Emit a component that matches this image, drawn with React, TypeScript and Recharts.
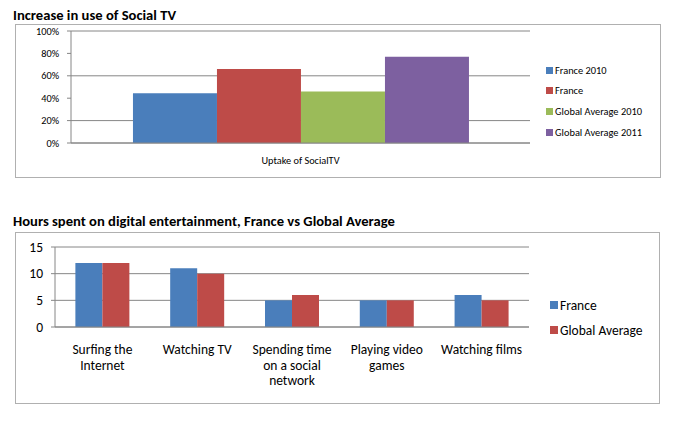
import { BarChart, Bar, XAxis, YAxis, CartesianGrid } from 'recharts'

const socialCategories = ['Uptake of SocialTV']
const socialSeries = ['France 2010', 'France', 'Global Average 2010', 'Global Average 2011']
const france2010 = [0.445]
const france2011 = [0.66]
const global2010 = [0.46]
const global2011 = [0.77]
const percentTicks = [0, 0.2, 0.4, 0.6, 0.8, 1]

const activities = [
  'Surfing the\nInternet',
  'Watching TV',
  'Spending time\non a social\nnetwork',
  'Playing video\ngames',
  'Watching films',
]
const hourSeries = ['France', 'Global Average']
const hoursFrance = [12, 11, 5, 5, 6]
const hoursGlobal = [12, 10, 6, 5, 5]
const hourTicks = [0, 5, 10, 15]

const BLUE = '#4a7ebb'
const RED = '#be4b48'
const GREEN = '#9bbb59'
const PURPLE = '#7d60a0'
const GRID = '#868686'
const FONT = 'Carlito, Lato, sans-serif'

const socialData = socialCategories.map((name, i) => ({
  name,
  f2010: france2010[i],
  f2011: france2011[i],
  g2010: global2010[i],
  g2011: global2011[i],
}))

const hoursData = activities.map((name, i) => ({
  name,
  france: hoursFrance[i],
  global: hoursGlobal[i],
}))

function CategoryTick(props: any) {
  const { x, y, payload, fontSize, offset, lineHeight } = props
  const lines = String(payload.value).split('\n')
  return (
    <text x={x} y={y + offset} textAnchor="middle" fontSize={fontSize} fontFamily={FONT} fill="#000">
      {lines.map((l: string, i: number) => (
        <tspan key={i} x={x} dy={i === 0 ? 0 : lineHeight}>
          {l}
        </tspan>
      ))}
    </text>
  )
}

function LegendList(props: {
  names: string[]
  colors: string[]
  left: number
  top: number
  step: number
  fontSize: number
  marker: number
}) {
  const { names, colors, left, top, step, fontSize, marker } = props
  return (
    <div style={{ position: 'absolute', left, top }}>
      {names.map((n, i) => (
        <div
          key={n}
          style={{
            position: 'absolute',
            top: i * step,
            left: 0,
            height: 16,
            display: 'flex',
            alignItems: 'center',
            whiteSpace: 'nowrap',
            fontSize,
            fontFamily: FONT,
            color: '#000',
          }}
        >
          <span style={{ width: marker, height: marker, background: colors[i], marginRight: 2, display: 'inline-block' }} />
          {n}
        </div>
      ))}
    </div>
  )
}

const boxStyle = (left: number, top: number, width: number, height: number): any => ({
  position: 'absolute',
  left,
  top,
  width,
  height,
  border: '1px solid #b0b0b0',
  boxSizing: 'border-box',
})

export default function App() {
  return (
    <div style={{ position: 'absolute', left: 0, top: 0, width: 676, height: 428, background: '#fff', fontFamily: FONT }}>
      <div style={{ position: 'absolute', left: 13, top: 6, fontSize: 14.6, fontWeight: 'bold', whiteSpace: 'nowrap' }}>
        Increase in use of Social TV
      </div>
      <div style={boxStyle(15, 24, 646, 154)} />
      <div style={{ position: 'absolute', left: 15, top: 24 }}>
        <BarChart
          width={645}
          height={153}
          data={socialData}
          margin={{ top: 7, right: 130, left: 0, bottom: 0 }}
          barCategoryGap="13.5%"
          barGap={0}
        >
          <CartesianGrid vertical={false} stroke={GRID} />
          <XAxis
            xAxisId="edges"
            type="number"
            domain={[0, 1]}
            ticks={[0, 1]}
            tick={false}
            tickSize={3}
            axisLine={false}
            stroke={GRID}
            height={0}
          />
          <XAxis
            dataKey="name"
            height={34}
            tickLine={false}
            tickSize={0}
            tickMargin={0}
            stroke={GRID}
            tick={(p: any) => <CategoryTick {...p} fontSize={10.3} offset={21} lineHeight={12} />}
          />
          <YAxis
            width={56}
            domain={[0, 1]}
            ticks={percentTicks}
            tickFormatter={(v: number) => `${Math.round(v * 100)}%`}
            tickSize={4}
            tickMargin={8}
            stroke={GRID}
            tick={{ fill: '#000', fontSize: 10.3, fontFamily: FONT }}
          />
          <Bar xAxisId={0} dataKey="f2010" fill={BLUE} isAnimationActive={false} />
          <Bar xAxisId={0} dataKey="f2011" fill={RED} isAnimationActive={false} />
          <Bar xAxisId={0} dataKey="g2010" fill={GREEN} isAnimationActive={false} />
          <Bar xAxisId={0} dataKey="g2011" fill={PURPLE} isAnimationActive={false} />
        </BarChart>
      </div>
      <LegendList
        names={socialSeries}
        colors={[BLUE, RED, GREEN, PURPLE]}
        left={546}
        top={62}
        step={20.7}
        fontSize={10.4}
        marker={7}
      />

      <div style={{ position: 'absolute', left: 13, top: 212, fontSize: 14.6, fontWeight: 'bold', whiteSpace: 'nowrap' }}>
        Hours spent on digital entertainment, France vs Global Average
      </div>
      <div style={boxStyle(15, 232, 645, 172)} />
      <div style={{ position: 'absolute', left: 15, top: 232 }}>
        <BarChart
          width={644}
          height={171}
          data={hoursData}
          margin={{ top: 15, right: 130, left: 0, bottom: 0 }}
          barCategoryGap="21.5%"
          barGap={0}
        >
          <CartesianGrid vertical={false} stroke={GRID} />
          <XAxis
            xAxisId="edges"
            type="number"
            domain={[0, 5]}
            ticks={[0, 1, 2, 3, 4, 5]}
            tick={false}
            tickSize={4}
            axisLine={false}
            stroke={GRID}
            height={0}
          />
          <XAxis
            dataKey="name"
            height={76}
            tickLine={false}
            tickSize={0}
            tickMargin={0}
            stroke={GRID}
            interval={0}
            tick={(p: any) => <CategoryTick {...p} fontSize={13.5} offset={27} lineHeight={15.5} />}
          />
          <YAxis
            width={40}
            domain={[0, 15]}
            ticks={hourTicks}
            tickSize={4}
            tickMargin={8}
            stroke={GRID}
            tick={{ fill: '#000', fontSize: 13.5, fontFamily: FONT }}
          />
          <Bar xAxisId={0} dataKey="france" fill={BLUE} isAnimationActive={false} />
          <Bar xAxisId={0} dataKey="global" fill={RED} isAnimationActive={false} />
        </BarChart>
      </div>
      <LegendList
        names={hourSeries}
        colors={[BLUE, RED]}
        left={550}
        top={297}
        step={25}
        fontSize={13.5}
        marker={8}
      />
    </div>
  )
}
